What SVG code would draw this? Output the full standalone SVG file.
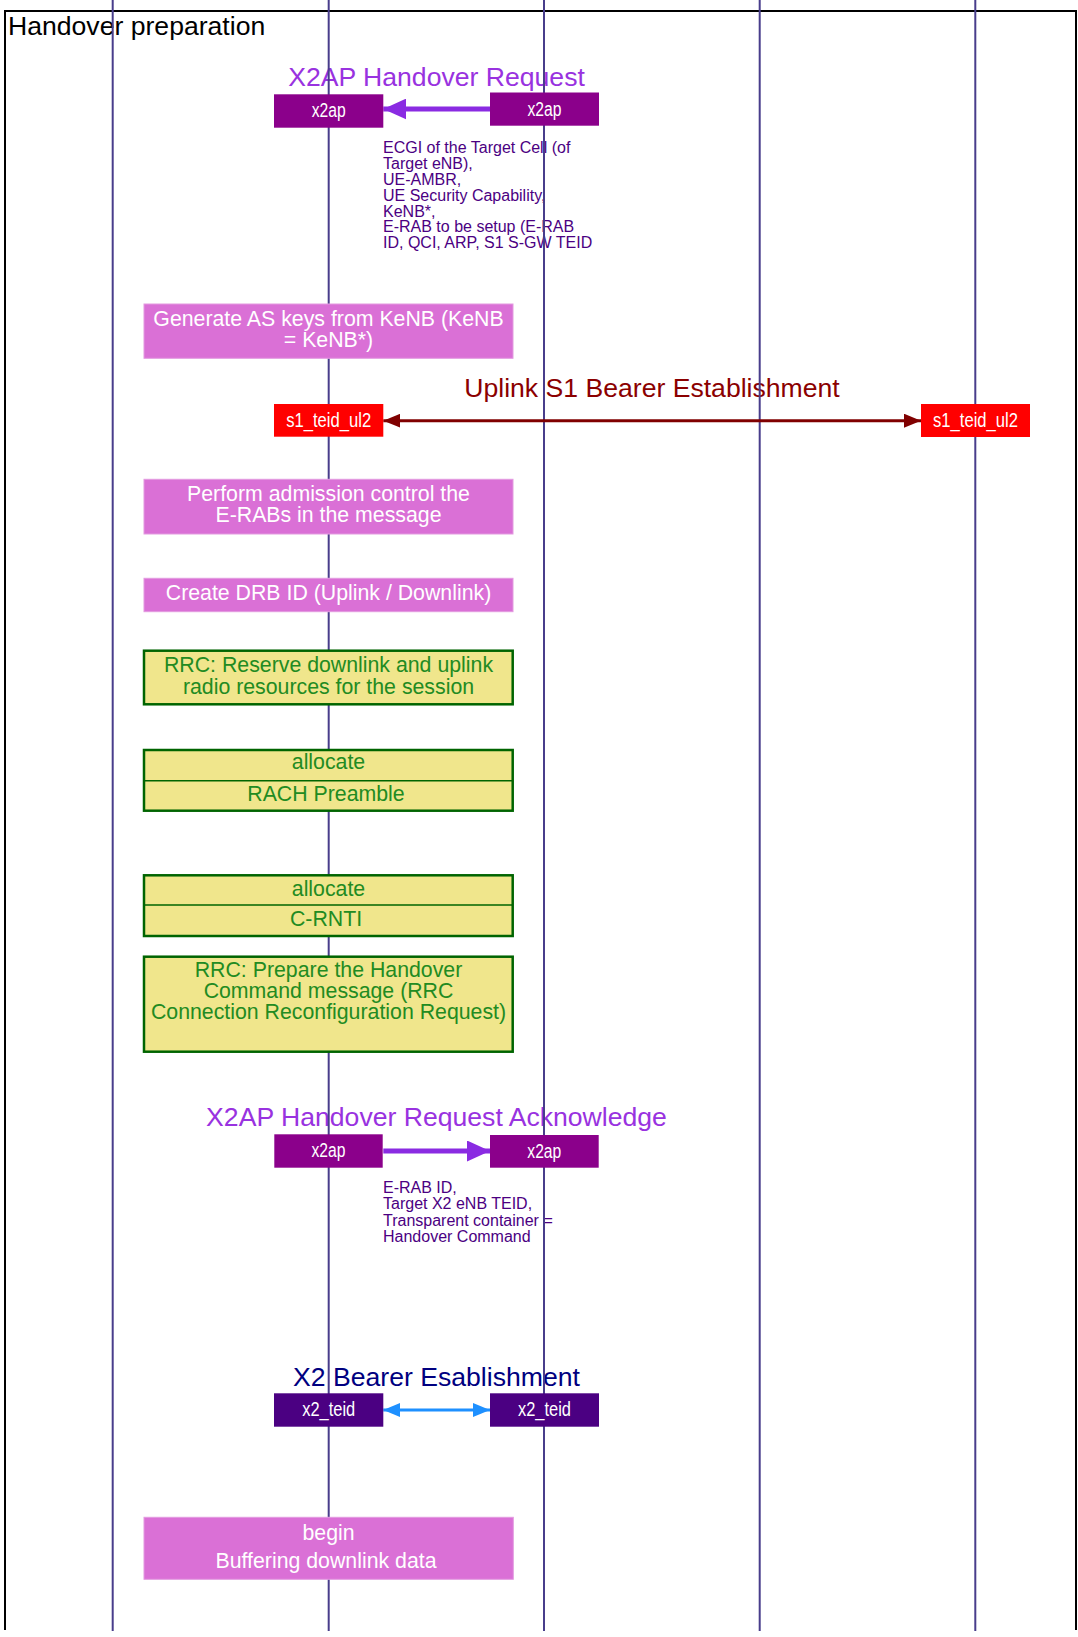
<svg xmlns="http://www.w3.org/2000/svg" width="1078" height="1637" viewBox="0 0 1078 1637">
<style>
text{font-family:"Liberation Sans",Arial,sans-serif}
.title{font-size:26.6px;text-anchor:middle}
.frame-t{font-size:26.6px;fill:#000}
.note{font-size:16px;fill:#4B0082}
.act rect{fill:#DA70D6;stroke:#E39AE0;stroke-width:1}
.act text{font-size:21.3px;fill:#fff;text-anchor:middle}
.rrc rect{fill:#F0E68C;stroke:#006400;stroke-width:2.5}
.rrc line{stroke:#006400;stroke-width:1.5}
.rrc text{font-size:21.3px;fill:#228B22;text-anchor:middle}
.lbl{font-size:19.5px;fill:#fff;text-anchor:middle}
.life{stroke:#483D8B;stroke-width:2}
</style>
<defs>
<marker id="ahV" markerUnits="userSpaceOnUse" markerWidth="23" markerHeight="21" refX="23" refY="10.5" orient="auto-start-reverse"><path d="M0,0 L23,10.5 L0,21 Z" fill="#8A2BE2"/></marker>
<marker id="ahR" markerUnits="userSpaceOnUse" markerWidth="17" markerHeight="14" refX="17" refY="7" orient="auto-start-reverse"><path d="M0,0 L17,7 L0,14 Z" fill="#800000"/></marker>
<marker id="ahB" markerUnits="userSpaceOnUse" markerWidth="17" markerHeight="14" refX="17" refY="7" orient="auto-start-reverse"><path d="M0,0 L17,7 L0,14 Z" fill="#1E90FF"/></marker>
</defs>
<rect width="1078" height="1637" fill="#fff"/>
<g id="frame">
<path d="M5,1630 V11 H1076 V1630" fill="none" stroke="#000" stroke-width="2"/>
<text class="frame-t" x="8" y="35">Handover preparation</text>
</g>
<g id="labels">
<text class="title" x="436.5" y="86" fill="#9932E0">X2AP Handover Request</text>
<text class="note"><tspan x="383" y="153.3">ECGI of the Target Cell (of</tspan><tspan x="383" y="169.1">Target eNB),</tspan><tspan x="383" y="184.9">UE-AMBR,</tspan><tspan x="383" y="200.7">UE Security Capability,</tspan><tspan x="383" y="216.5">KeNB*,</tspan><tspan x="383" y="232.3">E-RAB to be setup (E-RAB</tspan><tspan x="383" y="248.1">ID, QCI, ARP, S1 S-GW TEID</tspan></text>
<text class="title" x="652" y="396.5" fill="#8B0000">Uplink S1 Bearer Establishment</text>
<text class="title" x="436.5" y="1126" fill="#9932E0">X2AP Handover Request Acknowledge</text>
<text class="note"><tspan x="383" y="1193.3">E-RAB ID,</tspan><tspan x="383" y="1209.4">Target X2 eNB TEID,</tspan><tspan x="383" y="1225.5">Transparent container =</tspan><tspan x="383" y="1241.6">Handover Command</tspan></text>
<text class="title" x="436.5" y="1386" fill="#000080">X2 Bearer Esablishment</text>
</g>
<g id="lifelines">
<line class="life" x1="112.7" y1="0" x2="112.7" y2="1631"/>
<line class="life" x1="328.7" y1="0" x2="328.7" y2="1631"/>
<line class="life" x1="544" y1="0" x2="544" y2="1631"/>
<line class="life" x1="759.7" y1="0" x2="759.7" y2="1631"/>
<line class="life" x1="975.3" y1="0" x2="975.3" y2="1631"/>
</g>
<g id="connectors">
<line x1="490" y1="109" x2="383.3" y2="109" stroke="#8A2BE2" stroke-width="5" marker-end="url(#ahV)"/>
<line x1="383.3" y1="420.7" x2="921" y2="420.7" stroke="#800000" stroke-width="3" marker-start="url(#ahR)" marker-end="url(#ahR)"/>
<line x1="383.3" y1="1151" x2="490" y2="1151" stroke="#8A2BE2" stroke-width="5" marker-end="url(#ahV)"/>
<line x1="383.3" y1="1410" x2="490" y2="1410" stroke="#1E90FF" stroke-width="3" marker-start="url(#ahB)" marker-end="url(#ahB)"/>
</g>
<g id="x2ap-src">
<rect x="274" y="94.3" width="109.3" height="33.4" fill="#8B008B"/>
<text class="lbl" x="328.7" y="117.3" textLength="34" lengthAdjust="spacingAndGlyphs">x2ap</text>
</g>
<g id="x2ap-tgt">
<rect x="490" y="92.5" width="109" height="33.2" fill="#8B008B"/>
<text class="lbl" x="544.5" y="115.5" textLength="34" lengthAdjust="spacingAndGlyphs">x2ap</text>
</g>
<g id="gen-keys" class="act">
<rect x="144" y="304" width="369" height="54.3"/>
<text x="328.5" y="326">Generate AS keys from KeNB (KeNB</text>
<text x="328.5" y="347.3">= KeNB*)</text>
</g>
<g id="s1-left">
<rect x="274" y="404" width="109.3" height="32.7" fill="#FF0000"/>
<text class="lbl" x="328.7" y="427" textLength="85" lengthAdjust="spacingAndGlyphs">s1_teid_ul2</text>
</g>
<g id="s1-right">
<rect x="921" y="404" width="109" height="33" fill="#FF0000"/>
<text class="lbl" x="975.5" y="427" textLength="85" lengthAdjust="spacingAndGlyphs">s1_teid_ul2</text>
</g>
<g id="admission" class="act">
<rect x="144" y="479.3" width="369" height="54.7"/>
<text x="328.5" y="500.7">Perform admission control the</text>
<text x="328.5" y="522.3">E-RABs in the message</text>
</g>
<g id="drb" class="act">
<rect x="144" y="578.3" width="369" height="33.4"/>
<text x="328.5" y="600">Create DRB ID (Uplink / Downlink)</text>
</g>
<g id="rrc-reserve" class="rrc">
<rect x="144" y="650.7" width="368.7" height="53.6"/>
<text x="328.5" y="672">RRC: Reserve downlink and uplink</text>
<text x="328.5" y="693.6">radio resources for the session</text>
</g>
<g id="alloc-rach" class="rrc">
<rect x="144" y="750" width="368.7" height="60.7"/>
<line x1="144" y1="780.7" x2="512.7" y2="780.7"/>
<text x="328.5" y="769.3">allocate</text>
<text x="326" y="800.7">RACH Preamble</text>
</g>
<g id="alloc-crnti" class="rrc">
<rect x="144" y="875.3" width="368.7" height="60.7"/>
<line x1="144" y1="905" x2="512.7" y2="905"/>
<text x="328.5" y="895.7">allocate</text>
<text x="326" y="926">C-RNTI</text>
</g>
<g id="rrc-prepare" class="rrc">
<rect x="144" y="956.7" width="368.7" height="95"/>
<text x="328.5" y="976.7">RRC: Prepare the Handover</text>
<text x="328.5" y="997.7">Command message (RRC</text>
<text x="328.5" y="1018.7">Connection Reconfiguration Request)</text>
</g>
<g id="x2ap-ack-src">
<rect x="274.3" y="1134.3" width="108.4" height="33.4" fill="#8B008B"/>
<text class="lbl" x="328.5" y="1157.3" textLength="34" lengthAdjust="spacingAndGlyphs">x2ap</text>
</g>
<g id="x2ap-ack-tgt">
<rect x="490" y="1135" width="108.7" height="32.7" fill="#8B008B"/>
<text class="lbl" x="544.3" y="1157.7" textLength="34" lengthAdjust="spacingAndGlyphs">x2ap</text>
</g>
<g id="x2teid-left">
<rect x="274" y="1393.3" width="109.3" height="33.4" fill="#4B0082"/>
<text class="lbl" x="328.7" y="1416.3" textLength="53" lengthAdjust="spacingAndGlyphs">x2_teid</text>
</g>
<g id="x2teid-right">
<rect x="490" y="1393.3" width="109" height="33.4" fill="#4B0082"/>
<text class="lbl" x="544.5" y="1416.3" textLength="53" lengthAdjust="spacingAndGlyphs">x2_teid</text>
</g>
<g id="buffering" class="act">
<rect x="144" y="1517.3" width="369.3" height="62"/>
<text x="328.5" y="1540">begin</text>
<text x="326" y="1568.3">Buffering downlink data</text>
</g>
</svg>
